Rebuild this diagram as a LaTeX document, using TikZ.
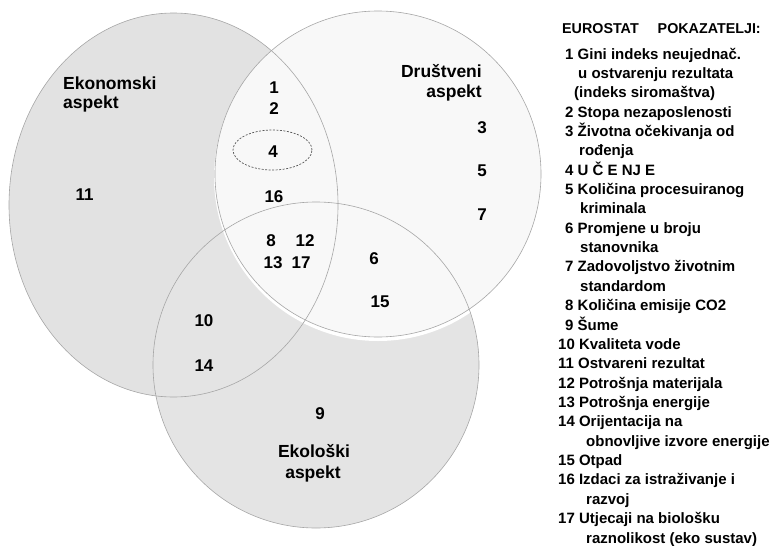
\documentclass[tikz,border=0pt]{standalone}
\usepackage{fontspec}
\setmainfont{Liberation Sans}
\definecolor{ekonfill}{HTML}{E2E2E2}
\definecolor{ekolfill}{HTML}{E4E4E4}
\definecolor{drufill}{HTML}{F8F8F8}
\definecolor{outl}{HTML}{A6A6A6}
\begin{document}
\begin{tikzpicture}[x=1pt,y=-1pt,
  outline/.style={draw=outl, line width=0.6pt},
  num/.style={font=\bfseries\fontsize{17}{20}\selectfont, inner sep=0pt},
  lab/.style={font=\bfseries\fontsize{17.5}{20}\selectfont, inner sep=0pt},
  li/.style={font=\bfseries\fontsize{15}{18}\selectfont, inner sep=0pt, anchor=base west},
]
\useasboundingbox (0,0) rectangle (774,546);
% fills
\fill[ekonfill] (173.5,205) ellipse [x radius=164.5pt, y radius=192pt];
\fill[ekolfill] (316,365) circle [radius=163pt];
\fill[white] (378,177) circle [radius=164pt];
\fill[drufill] (378,174) circle [radius=163pt];
% outlines
\draw[outline] (173.5,205) ellipse [x radius=164.5pt, y radius=192pt];
\draw[outline] (316,365) circle [radius=163pt];
\draw[outline] (378,174) circle [radius=163pt];
% dashed ellipse around 4
\draw[black!65, line width=0.7pt, dash pattern=on 2pt off 1.5pt] (272.5,150) ellipse [x radius=39.5pt, y radius=20pt];

% set labels
\node[lab, anchor=base west] (eko1) at (63,89) {Ekonomski};
\node[lab, anchor=base west] (eko2) at (63,108.5) {aspekt};
\node[lab, anchor=base east] (dru1) at (482,77) {Društveni};
\node[lab, anchor=base east] (dru2) at (482,97.5) {aspekt};
\node[lab, anchor=base] (ekl1) at (314,457) {Ekološki};
\node[lab, anchor=base] (ekl2) at (313,478) {aspekt};

% numbers
\node[num] (n1) at (274,88) {1};
\node[num] (n2) at (274,109) {2};
\node[num] (n4) at (273,152) {4};
\node[num] (n16) at (274,197) {16};
\node[num] (n8) at (271,241) {8};
\node[num] (n12) at (305,241) {12};
\node[num] (n13) at (273,263) {13};
\node[num] (n17) at (301,263) {17};
\node[num] (n3) at (482,128) {3};
\node[num] (n5) at (482,171) {5};
\node[num] (n7) at (482,215) {7};
\node[num] (n6) at (374,259) {6};
\node[num] (n15) at (380,302) {15};
\node[num] (n11) at (84.5,195) {11};
\node[num] (n10) at (204,321) {10};
\node[num] (n14) at (204,366) {14};
\node[num] (n9) at (320,414) {9};

% list
\node[li, font=\bfseries\fontsize{14.3}{17}\selectfont] (title) at (562,33) {EUROSTAT\hspace{19pt}POKAZATELJI:};
\node[li] (l1) at (565,59) {1 Gini indeks neujednač.};
\node[li] (l2) at (578,78.36) {u ostvarenju rezultata};
\node[li] (l3) at (574,97.72) {(indeks siromaštva)};
\node[li] (l4) at (565,117.08) {2 Stopa nezaposlenosti};
\node[li] (l5) at (565,136.44) {3 Životna očekivanja od};
\node[li] (l6) at (579,155.8) {rođenja};
\node[li] (l7) at (565,175.16) {4 U Č E NJ E};
\node[li] (l8) at (565,194.52) {5 Količina procesuiranog};
\node[li] (l9) at (580,213.88) {kriminala};
\node[li] (l10) at (565,233.24) {6 Promjene u broju};
\node[li] (l11) at (580,252.6) {stanovnika};
\node[li] (l12) at (565,271.96) {7 Zadovoljstvo životnim};
\node[li] (l13) at (580,291.32) {standardom};
\node[li] (l14) at (565,310.68) {8 Količina emisije CO2};
\node[li] (l15) at (565,330.04) {9 Šume};
\node[li] (l16) at (558,349.4) {10 Kvaliteta vode};
\node[li] (l17) at (558,368.76) {11 Ostvareni rezultat};
\node[li] (l18) at (558,388.12) {12 Potrošnja materijala};
\node[li] (l19) at (558,407.48) {13 Potrošnja energije};
\node[li] (l20) at (558,426.84) {14 Orijentacija na};
\node[li] (l21) at (586,446.2) {obnovljive izvore energije};
\node[li] (l22) at (558,465.56) {15 Otpad};
\node[li] (l23) at (558,484.92) {16 Izdaci za istraživanje i};
\node[li] (l24) at (586,504.28) {razvoj};
\node[li] (l25) at (558,523.64) {17 Utjecaji na biološku};
\node[li] (l26) at (586,543) {raznolikost (eko sustav)};
\end{tikzpicture}
\end{document}
